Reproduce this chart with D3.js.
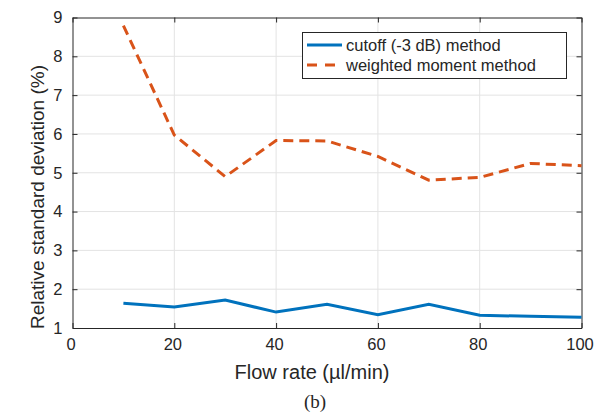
<!DOCTYPE html>
<meta charset="utf-8">
<style>
    body { margin: 0; background: #fff; }
    svg { display: block; }
    text { font-family: "Liberation Sans", Arial, sans-serif; fill: #262626; }
</style>
<script src="https://cdn.jsdelivr.net/npm/d3@7"></script>
<svg width="602" height="418"></svg>
<script>
    // taxa de fluxo (µl/min)
    var fluxo = [10, 20, 30, 40, 50, 60, 70, 80, 90, 100];
    var cutoff = [1.64, 1.54, 1.72, 1.41, 1.61, 1.34, 1.61, 1.33, 1.30, 1.28];
    var momento = [8.79, 5.97, 4.90, 5.83, 5.82, 5.42, 4.81, 4.88, 5.24, 5.18];
    var xTicks = [0, 20, 40, 60, 80, 100];
    var yTicks = [1, 2, 3, 4, 5, 6, 7, 8, 9];
    var nomes = ["cutoff (-3 dB) method", "weighted moment method"];

    var svg = d3.select("svg");
    var m = { left: 72.5, right: 581.5, top: 17.5, bottom: 328 };

    var x = d3.scaleLinear().domain([0, 100]).range([m.left, m.right]);
    var y = d3.scaleLinear().domain([1, 9]).range([m.bottom, m.top]);

    // grade
    svg.append("g").selectAll("line").data(xTicks.slice(1, -1)).enter().append("line")
        .attr("x1", x).attr("x2", x).attr("y1", m.top).attr("y2", m.bottom)
        .attr("stroke", "#e3e3e3").attr("stroke-width", 1);
    svg.append("g").selectAll("line").data(yTicks.slice(1, -1)).enter().append("line")
        .attr("y1", y).attr("y2", y).attr("x1", m.left).attr("x2", m.right)
        .attr("stroke", "#e3e3e3").attr("stroke-width", 1);

    // eixos (ticks para dentro, como no MATLAB)
    var eixoX = d3.axisBottom(x).tickValues(xTicks).tickSizeInner(-5).tickSizeOuter(0).tickPadding(10);
    var eixoY = d3.axisLeft(y).tickValues(yTicks).tickSizeInner(-5).tickSizeOuter(0).tickPadding(10);
    var gx = svg.append("g").attr("transform", "translate(0," + m.bottom + ")").call(eixoX);
    var gy = svg.append("g").attr("transform", "translate(" + m.left + ",0)").call(eixoY);
    svg.append("g").attr("transform", "translate(0," + m.top + ")")
        .call(d3.axisTop(x).tickValues(xTicks).tickSizeInner(-5).tickSizeOuter(0).tickFormat(""));
    svg.append("g").attr("transform", "translate(" + m.right + ",0)")
        .call(d3.axisRight(y).tickValues(yTicks).tickSizeInner(-5).tickSizeOuter(0).tickFormat(""));
    svg.selectAll(".domain, .tick line").attr("stroke", "#262626");
    svg.selectAll(".tick text").style("font-family", "Liberation Sans, Arial, sans-serif")
        .style("font-size", "16.5px").attr("fill", "#262626");
    gx.selectAll(".tick text").attr("dy", "0.72em").attr("dx", "-2px");

    var linha = d3.line()
        .x(function (d, i) { return x(fluxo[i]); })
        .y(function (d) { return y(d); });

    svg.append("path").datum(cutoff).attr("d", linha)
        .attr("fill", "none").attr("stroke", "#0072bd").attr("stroke-width", 3);
    svg.append("path").datum(momento).attr("d", linha)
        .attr("fill", "none").attr("stroke", "#d95319").attr("stroke-width", 3)
        .attr("stroke-dasharray", "10,6");

    // legenda
    var leg = svg.append("g");
    leg.append("rect").attr("x", 302.5).attr("y", 32.5).attr("width", 264).attr("height", 46)
        .attr("fill", "#fff").attr("stroke", "#262626").attr("stroke-width", 1);
    var cores = ["#0072bd", "#d95319"];
    var tracos = [null, "10,8"];
    nomes.forEach(function (n, i) {
        var ly = 45 + i * 20;
        leg.append("line").attr("x1", 307).attr("x2", 342).attr("y1", ly).attr("y2", ly)
            .attr("stroke", cores[i]).attr("stroke-width", 3).attr("stroke-dasharray", tracos[i]);
        leg.append("text").attr("x", 346).attr("y", ly).attr("dy", "0.35em")
            .style("font-size", "16.5px").text(n);
    });

    // rótulos
    svg.append("text").attr("x", 312).attr("y", 379)
        .attr("text-anchor", "middle").style("font-size", "20px").text("Flow rate (µl/min)");
    svg.append("text").attr("transform", "translate(44,197) rotate(-90)")
        .attr("text-anchor", "middle").style("font-size", "19px").text("Relative standard deviation (%)");
    svg.append("text").attr("x", 315).attr("y", 408).attr("text-anchor", "middle")
        .style("font-family", "Liberation Serif, Times New Roman, serif").style("font-size", "19px")
        .attr("fill", "#000").text("(b)");
</script>
